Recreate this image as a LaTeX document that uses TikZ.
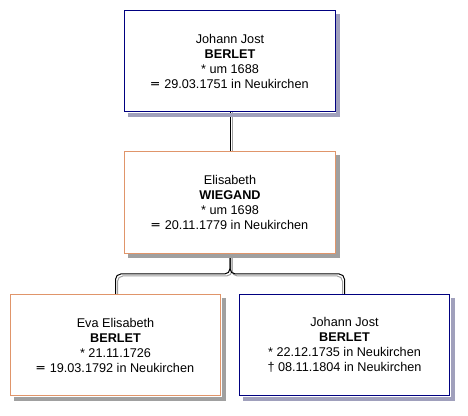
\documentclass[tikz,border=0pt]{standalone}
\usepackage{fontspec}
\setmainfont{Liberation Sans}
\newfontfamily\symfont{DejaVu Sans}
\usetikzlibrary{backgrounds,calc}
\definecolor{MaleLine}{HTML}{000080}
\definecolor{FemaleLine}{HTML}{E0956A}
\definecolor{ShadeGray}{HTML}{A0A0A0}
\definecolor{ShadeBlue}{HTML}{A0A0BC}
\newcommand{\burial}{{\symfont ═}\hspace{4pt}}
\tikzset{every node/.style={font=\fontsize{9.5}{11.25}\selectfont},
 person/.style={draw,line width=0.75pt,fill=white,minimum width=158pt,
 minimum height=76pt,align=center},
 male/.style={person,draw=MaleLine},
 female/.style={person,draw=FemaleLine},
 boxshade/.style={draw=#1,line width=3pt,line cap=butt},
 link/.style={draw=black,line width=0.75pt,rounded corners=4pt},
 linkshade/.style={link,draw=ShadeGray}}

\begin{document}
\begin{tikzpicture}[x=0.75pt,y=-0.75pt]
\useasboundingbox (0,0) rectangle (468,416);
\node[male] (f) at (230,61) {Johann Jost\\\textbf{BERLET}\\* um 1688\\
 \burial 29.03.1751 in Neukirchen};
\node[female] (m) at (230,202.5) {Elisabeth\\\textbf{WIEGAND}\\* um 1698\\
 \burial 20.11.1779 in Neukirchen};
\node[female] (d) at (115.5,345) {Eva Elisabeth\\\textbf{BERLET}\\* 21.11.1726\\
 \burial 19.03.1792 in Neukirchen};
\node[male] (s) at (344.5,345) {Johann Jost\\\textbf{BERLET}\\* 22.12.1735 in Neukirchen\\
 \dag\ 08.11.1804 in Neukirchen};
\coordinate (split) at (m.south |- 0,274);
% box shadows
\draw[boxshade=ShadeBlue] ($(f.north east)+(2.5,4)$) -- ($(f.south east)+(2.5,2.5)$) -- ($(f.south west)+(4,2.5)$);
\draw[boxshade=ShadeGray] ($(m.north east)+(2.5,4)$) -- ($(m.south east)+(2.5,2.5)$) -- ($(m.south west)+(4,2.5)$);
\draw[boxshade=ShadeGray] ($(d.north east)+(2.5,4)$) -- ($(d.south east)+(2.5,2.5)$) -- ($(d.south west)+(4,2.5)$);
\draw[boxshade=ShadeBlue] ($(s.north east)+(2.5,4)$) -- ($(s.south east)+(2.5,2.5)$) -- ($(s.south west)+(4,2.5)$);
\begin{scope}[on background layer]
% marriage line
\draw[linkshade] ($(f.south)+(2,0)$) -- ($(m.north)+(2,0)$);
\draw[link] (f.south) -- (m.north);
% children
\draw[linkshade] ($(m.south)+(2,0)$) -- ($(split)+(2,2)$) -| ($(d.north)+(2,2)$);
\draw[linkshade] ($(m.south)+(2,0)$) -- ($(split)+(2,2)$) -| ($(s.north)+(-2,2)$);
\draw[link] (m.south) -- (split) -| (d.north);
\draw[link] (m.south) -- (split) -| (s.north);
\end{scope}
\end{tikzpicture}
\end{document}
